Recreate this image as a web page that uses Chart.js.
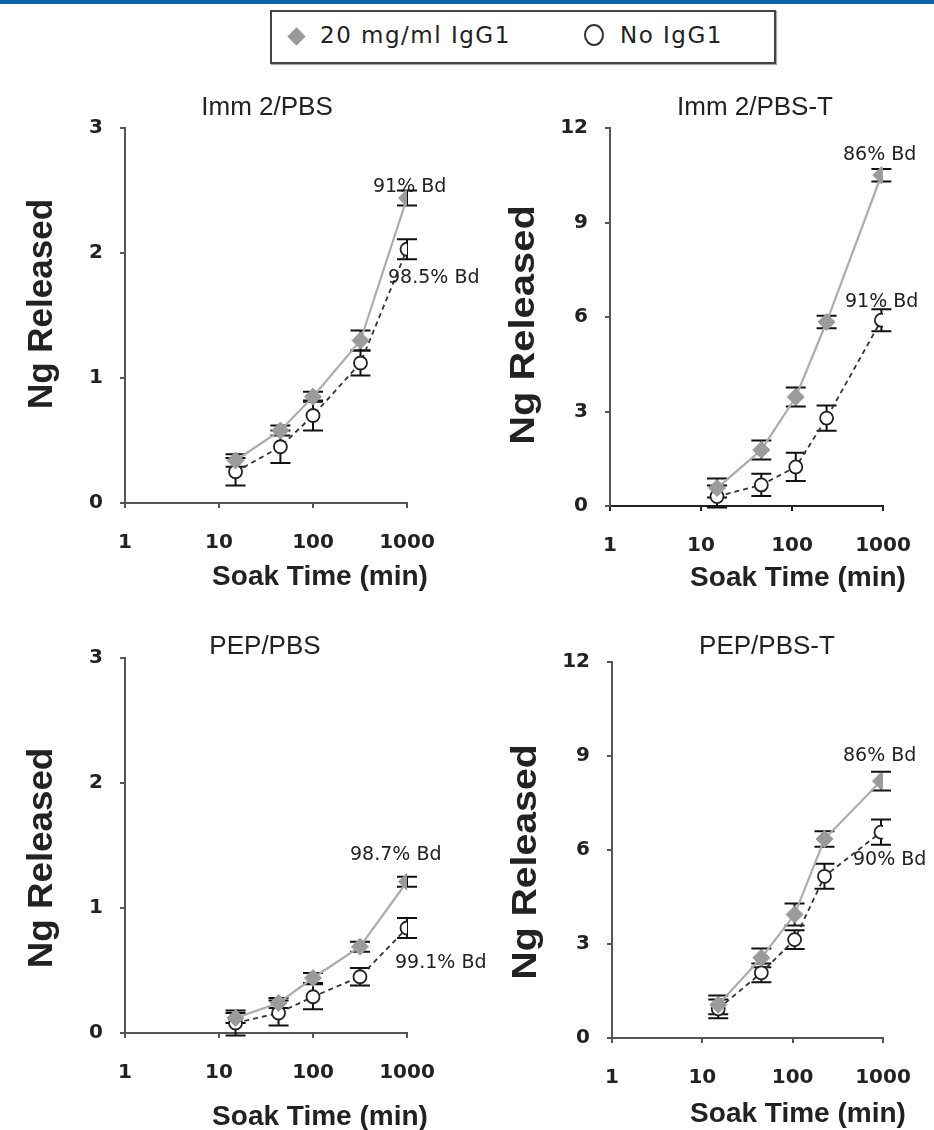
<!DOCTYPE html>
<html lang="en">
<head>
<meta charset="UTF-8">
<title>Ng Released vs Soak Time</title>
<script src="https://cdn.jsdelivr.net/npm/chart.js"></script>
<style>
  body { margin: 0; background: #fff; }
  #page { position: relative; width: 934px; height: 1130px; overflow: hidden; background: #fff; }
  .topbar { position: absolute; left: 0; top: 0; width: 934px; height: 4px; background: #0b64ac; }
  .legend { position: absolute; left: 270px; top: 10px; width: 502px; height: 50px; border: 2px solid #444;
            box-shadow: 1px 1px 1px #aaa; font-family: "DejaVu Sans", sans-serif; font-size: 23px; color: #222;
            letter-spacing: 1.5px; }
  .legend span { position: absolute; }
  .dia { width: 13px; height: 13px; background: #999; transform: rotate(45deg); left: 18px; top: 18px; }
  .circ { width: 20px; height: 22px; border: 2px solid #333; border-radius: 50%; left: 312px; top: 12px; box-sizing: border-box; }
  canvas { position: absolute; left: 0; }
</style>
</head>
<body>
<div id="page">
  <div class="topbar"></div>
  <div class="legend">
    <span class="dia"></span><span style="left:48px;top:10px">20 mg/ml IgG1</span>
    <span class="circ"></span><span style="left:348px;top:10px">No IgG1</span>
  </div>
  <canvas id="c1" width="934" height="530" style="top:70px"></canvas>
  <canvas id="c2" width="934" height="530" style="top:70px"></canvas>
  <canvas id="c3" width="934" height="530" style="top:600px"></canvas>
  <canvas id="c4" width="934" height="530" style="top:600px"></canvas>
</div>
<script>
// soak times (min) and Ng released
const xTicks = [1, 10, 100, 1000];
const yTicksSmall = [0, 1, 2, 3];
const yTicksLarge = [0, 3, 6, 9, 12];

const immPbsTimes = [15, 45, 100, 320, 1000];
const immPbsIgg = [0.34, 0.58, 0.85, 1.30, 2.44];
const immPbsIggErr = [0.05, 0.04, 0.04, 0.08, 0.06];
const immPbsNo = [0.25, 0.45, 0.70, 1.12, 2.03];
const immPbsNoErr = [0.11, 0.13, 0.12, 0.10, 0.08];

const immPbstTimes = [15, 46, 110, 240, 960];
const immPbstIgg = [0.57, 1.78, 3.46, 5.84, 10.5];
const immPbstIggErr = [0.3, 0.3, 0.3, 0.2, 0.2];
const immPbstNo = [0.3, 0.67, 1.24, 2.79, 5.9];
const immPbstNoErr = [0.35, 0.35, 0.45, 0.4, 0.35];

const pepPbsTimes = [15, 43, 100, 316, 1000];
const pepPbsIgg = [0.12, 0.24, 0.44, 0.69, 1.21];
const pepPbsIggErr = [0.04, 0.04, 0.04, 0.04, 0.04];
const pepPbsNo = [0.08, 0.16, 0.29, 0.45, 0.84];
const pepPbsNoErr = [0.1, 0.1, 0.1, 0.07, 0.08];

const pepPbstTimes = [15, 45, 105, 225, 950];
const pepPbstIgg = [1.06, 2.56, 3.94, 6.35, 8.2];
const pepPbstIggErr = [0.3, 0.3, 0.35, 0.25, 0.3];
const pepPbstNo = [0.93, 2.08, 3.14, 5.16, 6.57];
const pepPbstNoErr = [0.3, 0.3, 0.3, 0.4, 0.4];

// layout: page coordinates of each plot area and its texts
const panels = [
  { id: 'c1', top: 70, title: 'Imm 2/PBS', area: [125, 407, 128, 503], yMax: 3, yTicks: yTicksSmall, xAxisColor: '#555',
    times: immPbsTimes, igg: immPbsIgg, iggErr: immPbsIggErr, no: immPbsNo, noErr: immPbsNoErr,
    titlePos: [267, 108], yTitlePos: [42, 304], yStretch: 1, xTitlePos: [320, 577],
    notes: [['91% Bd', 373, 187], ['98.5% Bd', 388, 278]] },
  { id: 'c2', top: 70, title: 'Imm 2/PBS-T', area: [610, 883, 128, 506], yMax: 12, yTicks: yTicksLarge, xAxisColor: '#222',
    times: immPbstTimes, igg: immPbstIgg, iggErr: immPbstIggErr, no: immPbstNo, noErr: immPbstNoErr,
    titlePos: [755, 108], yTitlePos: [524, 325], yStretch: 1.14, xTitlePos: [798, 578],
    notes: [['86% Bd', 843, 155], ['91% Bd', 845, 302]] },
  { id: 'c3', top: 600, title: 'PEP/PBS', area: [125, 407, 658, 1033], yMax: 3, yTicks: yTicksSmall, xAxisColor: '#555',
    times: pepPbsTimes, igg: pepPbsIgg, iggErr: pepPbsIggErr, no: pepPbsNo, noErr: pepPbsNoErr,
    titlePos: [265, 647], yTitlePos: [42, 858], yStretch: 1.05, xTitlePos: [320, 1117],
    notes: [['98.7% Bd', 350, 855], ['99.1% Bd', 395, 963]] },
  { id: 'c4', top: 600, title: 'PEP/PBS-T', area: [612, 883, 662, 1038], yMax: 12, yTicks: yTicksLarge, xAxisColor: '#555',
    times: pepPbstTimes, igg: pepPbstIgg, iggErr: pepPbstIggErr, no: pepPbstNo, noErr: pepPbstNoErr,
    titlePos: [767, 647], yTitlePos: [526, 862], yStretch: 1.12, xTitlePos: [798, 1114],
    notes: [['86% Bd', 843, 756], ['90% Bd', 853, 860]] }
];

const toPoints = (xs, ys) => xs.map((x, i) => ({ x: x, y: ys[i] }));

const errorBars = {
  id: 'errorBars',
  beforeDatasetsDraw(chart) {
    const ctx = chart.ctx;
    const ys = chart.scales.y;
    chart.data.datasets.forEach((ds, di) => {
      const meta = chart.getDatasetMeta(di);
      ctx.save();
      ctx.strokeStyle = '#111';
      ctx.lineWidth = 2;
      meta.data.forEach((pt, i) => {
        const v = ds.data[i].y, e = ds.errors[i];
        const top = ys.getPixelForValue(v + e);
        const bot = ys.getPixelForValue(v - e);
        ctx.beginPath();
        ctx.moveTo(pt.x, top); ctx.lineTo(pt.x, bot);
        ctx.moveTo(pt.x - 10, top); ctx.lineTo(pt.x + 10, top);
        ctx.moveTo(pt.x - 10, bot); ctx.lineTo(pt.x + 10, bot);
        ctx.stroke();
      });
      ctx.restore();
    });
  }
};

const panelText = {
  id: 'panelText',
  afterDraw(chart, args, opts) {
    const p = opts.panel;
    const ctx = chart.ctx;
    const oy = p.top;
    ctx.save();
    ctx.fillStyle = '#222';
    ctx.textAlign = 'center';
    ctx.textBaseline = 'middle';
    ctx.font = '26px "Liberation Sans", Arial, sans-serif';
    ctx.fillText(p.title, p.titlePos[0], p.titlePos[1] - oy);
    ctx.font = 'bold 28px "Liberation Sans", Arial, sans-serif';
    ctx.fillText('Soak Time (min)', p.xTitlePos[0], p.xTitlePos[1] - oy);
    ctx.save();
    ctx.translate(p.yTitlePos[0], p.yTitlePos[1] - oy);
    ctx.rotate(-Math.PI / 2);
    ctx.scale(p.yStretch, 1);
    ctx.font = 'bold 35px "Liberation Sans", Arial, sans-serif';
    ctx.fillText('Ng Released', 0, 0);
    ctx.restore();
    ctx.textAlign = 'left';
    ctx.font = '19px "DejaVu Sans", sans-serif';
    p.notes.forEach(n => ctx.fillText(n[0], n[1], n[2] - oy));
    ctx.restore();
  }
};

const tickFont = { family: 'DejaVu Sans', weight: 'bold', size: 20 };

panels.forEach(p => {
  const canvas = document.getElementById(p.id);
  const [l, r, t, b] = p.area;
  const yBox = l - (p.id === 'c2' || p.id === 'c4' ? 480 : 60);
  const xBox = canvas.height - (b - p.top);
  new Chart(canvas, {
    type: 'line',
    data: {
      datasets: [
        { label: '20 mg/ml IgG1', data: toPoints(p.times, p.igg), errors: p.iggErr,
          borderColor: '#acacac', borderWidth: 2.2, tension: 0,
          pointStyle: 'rectRot', pointRadius: 8.5, pointBackgroundColor: '#9b9b9b', pointBorderColor: '#9b9b9b', pointBorderWidth: 1 },
        { label: 'No IgG1', data: toPoints(p.times, p.no), errors: p.noErr,
          borderColor: '#333', borderWidth: 1.8, borderDash: [5, 4], tension: 0,
          pointStyle: 'circle', pointRadius: 6.5, pointBackgroundColor: '#fff', pointBorderColor: '#222', pointBorderWidth: 1.8 }
      ]
    },
    options: {
      responsive: false,
      animation: false,
      events: [],
      layout: { padding: { left: l - yBox, right: canvas.width - r, top: t - p.top, bottom: 0 } },
      plugins: { legend: { display: false }, tooltip: { enabled: false }, panelText: { panel: p } },
      scales: {
        x: {
          type: 'logarithmic', min: 1, max: 1000,
          afterFit: s => { s.height = xBox; },
          afterBuildTicks: s => { s.ticks = xTicks.map(v => ({ value: v })); },
          border: { color: p.xAxisColor, width: 2 },
          grid: { drawOnChartArea: false, tickLength: 5, color: p.xAxisColor, lineWidth: 2 },
          ticks: { padding: 23, color: '#222', font: tickFont, autoSkip: false, maxRotation: 0, callback: v => String(v) }
        },
        y: {
          min: 0, max: p.yMax,
          afterFit: s => { s.width = yBox; },
          afterBuildTicks: s => { s.ticks = p.yTicks.map(v => ({ value: v })); },
          border: { color: '#555', width: 2 },
          grid: { drawOnChartArea: false, tickLength: 5, color: '#555', lineWidth: 2 },
          ticks: { padding: 17, color: '#222', font: tickFont, callback: v => String(v) }
        }
      }
    },
    plugins: [errorBars, panelText]
  });
});
</script>
</body>
</html>
